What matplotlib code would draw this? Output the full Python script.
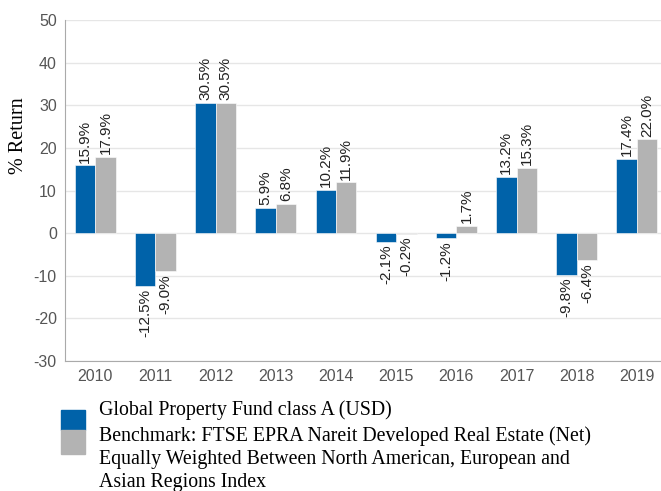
import matplotlib.pyplot as plt
import matplotlib.patches as mpatches
import numpy as np

plt.rcParams['axes.unicode_minus'] = False

years = ['2010', '2011', '2012', '2013', '2014', '2015', '2016', '2017', '2018', '2019']
fund = [15.9, -12.5, 30.5, 5.9, 10.2, -2.1, -1.2, 13.2, -9.8, 17.4]
bench = [17.9, -9.0, 30.5, 6.8, 11.9, -0.2, 1.7, 15.3, -6.4, 22.0]
fund_name = 'Global Property Fund class A (USD)'
bench_name = ('Benchmark: FTSE EPRA Nareit Developed Real Estate (Net)\n'
              'Equally Weighted Between North American, European and\n'
              'Asian Regions Index')

BLUE = '#0062a9'
GREY = '#b3b3b3'

fig = plt.figure(figsize=(6.61, 4.91), dpi=100)
ax = fig.add_axes([0.0985, 0.265, 0.9015, 0.694])

x = np.arange(len(years))
w = 0.34
b1 = ax.bar(x - w / 2, fund, w, color=BLUE, edgecolor='white', linewidth=0.4, zorder=3)
b2 = ax.bar(x + w / 2, bench, w, color=GREY, edgecolor='white', linewidth=0.4, zorder=3)

def label(bars, vals):
    for r, v in zip(bars, vals):
        cx = r.get_x() + r.get_width() / 2
        if v >= 0:
            ax.annotate('%.1f%%' % v, (cx, v), xytext=(0, 2), textcoords='offset points',
                        rotation=90, ha='center', va='bottom', fontsize=11,
                        family='Liberation Sans', color='#222222')
        else:
            ax.annotate('%.1f%%' % v, (cx, v), xytext=(0, -2), textcoords='offset points',
                        rotation=90, ha='center', va='top', fontsize=11,
                        family='Liberation Sans', color='#222222')

label(b1, fund)
label(b2, bench)

ax.set_xlim(-0.5, 9.4)
ax.set_ylim(-30, 50)
ax.set_yticks(range(-30, 51, 10))
ax.set_xticks(x)
ax.set_xticklabels(years)
ax.grid(axis='y', color='#e6e6e6', linewidth=1, zorder=0)
for s in ['top', 'right']:
    ax.spines[s].set_visible(False)
for s in ['left', 'bottom']:
    ax.spines[s].set_color('#aaaaaa')
ax.tick_params(length=0, labelsize=11.5, labelcolor='#555555', pad=6)
for t in ax.get_xticklabels() + ax.get_yticklabels():
    t.set_family('Liberation Sans')
ax.set_ylabel('% Return', family='Liberation Serif', fontsize=14.5)
ax.yaxis.set_label_coords(-0.062, 0.66)

# legend drawn by hand, squares stacked at left
fig.patches.append(mpatches.Rectangle((61 / 661, 1 - 430 / 491), 24 / 661, 20 / 491,
                                      transform=fig.transFigure, color=BLUE))
fig.patches.append(mpatches.Rectangle((61 / 661, 1 - 454 / 491), 24 / 661, 24 / 491,
                                      transform=fig.transFigure, color=GREY))
fig.text(99 / 661, 1 - 410 / 491, fund_name, family='Liberation Serif', fontsize=14.3,
         va='center', ha='left')
fig.text(99 / 661, 1 - 426 / 491, bench_name, family='Liberation Serif', fontsize=14.3,
         va='top', ha='left', linespacing=1.28)

fig.savefig('out.png', dpi=100)
